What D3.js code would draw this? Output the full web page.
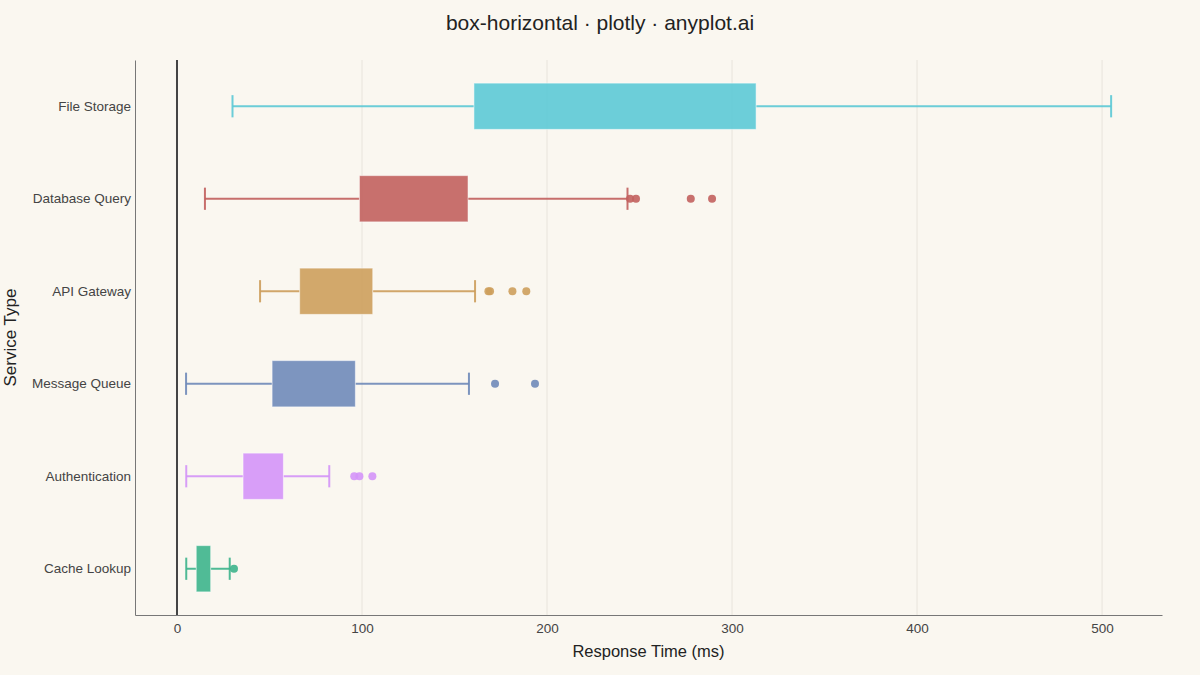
<!DOCTYPE html>
<html>
<head>
<meta charset="utf-8">
<script src="https://cdn.jsdelivr.net/npm/d3@7/dist/d3.min.js"></script>
<style>
html,body{margin:0;padding:0;background:#FAF7F0;}
svg{display:block;font-family:"Liberation Sans",Arial,sans-serif;}
</style>
</head>
<body>
<svg id="chart" width="1200" height="675"></svg>
<script>
// Categories, top to bottom
const categories = ["File Storage","Database Query","API Gateway","Message Queue","Authentication","Cache Lookup"];
const lowerWhisker = [30.0, 15.1, 44.9, 4.9, 5.0, 5.0];
const q1Values     = [160.5, 98.6, 66.3, 51.4, 35.7, 10.4];
const q3Values     = [313.0, 157.3, 105.8, 96.4, 57.5, 18.2];
const upperWhisker = [504.9, 243.5, 161.1, 157.8, 82.3, 28.5];
const outliers = [
  [],
  [244.9, 248.1, 277.7, 289.2],
  [168.3, 169.2, 181.3, 188.8],
  [171.9, 193.5],
  [95.8, 98.6, 105.6],
  [30.8]
];
const colors = ["#5CC9D6","#C2605E","#CD9E5C","#6F8AB9","#D494F8","#3DB48C"];
const xTicks = [0,100,200,300,400,500];
const xDomain = [-22.7, 532.4];

const svg = d3.select("#chart");
const W = 1200, H = 675;
const m = {top:60, right:38, bottom:60, left:135};
const iw = W - m.left - m.right, ih = H - m.top - m.bottom;

const x = d3.scaleLinear().domain(xDomain).range([m.left, m.left+iw]);
const y = d3.scaleBand().domain(categories).range([m.top, m.top+ih]).paddingInner(0).paddingOuter(0);

svg.append("rect").attr("width",W).attr("height",H).attr("fill","#FAF7F0");

// grid
svg.append("g").selectAll("line").data(xTicks.filter(d=>d!==0)).join("line")
  .attr("x1",d=>x(d)).attr("x2",d=>x(d)).attr("y1",m.top).attr("y2",m.top+ih)
  .attr("stroke","#E8E4DC").attr("stroke-width",1);

// zero line
svg.append("line").attr("x1",x(0)).attr("x2",x(0)).attr("y1",m.top).attr("y2",m.top+ih)
  .attr("stroke","#444").attr("stroke-width",2);

// axes
const xAxis = d3.axisBottom(x).tickValues(xTicks).tickSize(0).tickPadding(8);
const gx = svg.append("g").attr("transform",`translate(0,${m.top+ih})`).call(xAxis);
gx.select(".domain").attr("stroke","#777").attr("stroke-width",1);
gx.selectAll("text").attr("font-size",13.5).attr("fill","#444").attr("font-family","Liberation Sans, Arial, sans-serif");

const yAxis = d3.axisLeft(y).tickSize(0).tickPadding(4);
const gy = svg.append("g").attr("transform",`translate(${m.left},0)`).call(yAxis);
gy.select(".domain").attr("stroke","#777").attr("stroke-width",1);
gy.selectAll("text").attr("font-size",13.5).attr("fill","#444").attr("font-family","Liberation Sans, Arial, sans-serif");

// boxes
const bw = y.bandwidth()*0.5;
const capH = bw*0.48;
categories.forEach((c,i)=>{
  const cy = y(c) + y.bandwidth()/2;
  const g = svg.append("g");
  const col = colors[i];
  g.append("line").attr("x1",x(lowerWhisker[i])).attr("x2",x(q1Values[i])).attr("y1",cy).attr("y2",cy)
    .attr("stroke",col).attr("stroke-width",2).attr("opacity",0.9);
  g.append("line").attr("x1",x(q3Values[i])).attr("x2",x(upperWhisker[i])).attr("y1",cy).attr("y2",cy)
    .attr("stroke",col).attr("stroke-width",2).attr("opacity",0.9);
  [lowerWhisker[i], upperWhisker[i]].forEach(v=>{
    g.append("line").attr("x1",x(v)).attr("x2",x(v)).attr("y1",cy-capH/2).attr("y2",cy+capH/2)
      .attr("stroke",col).attr("stroke-width",2).attr("opacity",0.9);
  });
  g.append("rect").attr("x",x(q1Values[i])).attr("width",x(q3Values[i])-x(q1Values[i]))
    .attr("y",cy-bw/2).attr("height",bw)
    .attr("fill",col).attr("fill-opacity",0.9)
    .attr("stroke","#FFFFFF").attr("stroke-opacity",0.5).attr("stroke-width",1);
  g.selectAll("circle").data(outliers[i]).join("circle")
    .attr("cx",d=>x(d)).attr("cy",cy).attr("r",4)
    .attr("fill",col).attr("opacity",0.9);
});

// title
svg.append("text").attr("x",W/2).attr("y",30).attr("text-anchor","middle")
  .attr("font-size",21).attr("fill","#222").text("box-horizontal · plotly · anyplot.ai");
// axis titles
svg.append("text").attr("x",m.left+iw/2).attr("y",657).attr("text-anchor","middle")
  .attr("font-size",16.5).attr("fill","#222").text("Response Time (ms)");
svg.append("text").attr("transform",`translate(10,${m.top+ih/2}) rotate(-90)`)
  .attr("text-anchor","middle").attr("dy","0.35em")
  .attr("font-size",17).attr("fill","#222").text("Service Type");
</script>
</body>
</html>
